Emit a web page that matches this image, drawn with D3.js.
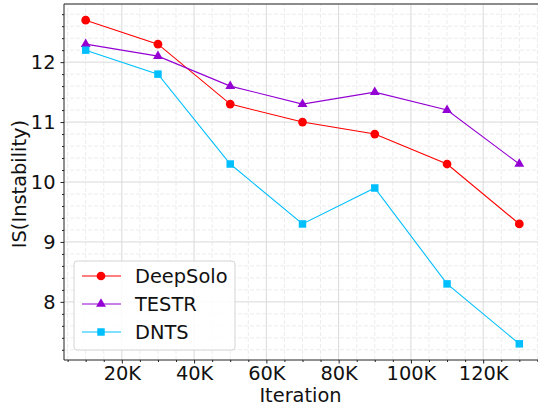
<!DOCTYPE html>
<html>
<head>
<meta charset="utf-8">
<script src="https://cdn.jsdelivr.net/npm/d3@7"></script>
<style>
  body { margin: 0; background: #fff; }
  svg { font-family: "DejaVu Sans", sans-serif; }
</style>
</head>
<body>
<div id="chart"></div>
<script>
const iterations = [10000, 30000, 50000, 70000, 90000, 110000, 130000];
const deepSolo = [12.7, 12.3, 11.3, 11.0, 10.8, 10.3, 9.3];
const testr = [12.3, 12.1, 11.6, 11.3, 11.5, 11.2, 10.3];
const dnts = [12.2, 11.8, 10.3, 9.3, 9.9, 8.3, 7.3];
const seriesNames = ['DeepSolo', 'TESTR', 'DNTS'];
const xTicks = [20000, 40000, 60000, 80000, 100000, 120000];
const yTicks = [8, 9, 10, 11, 12];

const width = 538, height = 406;
const margin = { top: 4, right: -3, bottom: 46, left: 64 };
const fontSize = '19.4px';

const series = [
	{ name: seriesNames[0], values: deepSolo, color: '#ff0000', marker: d3.symbolCircle, size: 60 },
	{ name: seriesNames[1], values: testr, color: '#9400d3', marker: d3.symbolTriangle, size: 42 },
	{ name: seriesNames[2], values: dnts, color: '#00bfff', marker: d3.symbolSquare, size: 56 }
];

const svg = d3.select('#chart')
	.append('svg')
	.attr('width', width)
	.attr('height', height);

const x = d3.scaleLinear()
	.domain([4000, 136000])
	.range([margin.left, width - margin.right]);

const y = d3.scaleLinear()
	.domain([7.03, 12.97])
	.range([height - margin.bottom, margin.top]);

const minorX = d3.range(5000, 136001, 5000).filter(v => v % 20000 !== 0);
const minorY = d3.range(7.2, 12.97, 0.2).filter(v => Math.abs(v - Math.round(v)) > 0.01);

const grid = svg.append('g');

// minor grid, dashed
grid.selectAll('.minx')
	.data(minorX)
	.enter()
	.append('line')
	.attr('x1', d => x(d)).attr('x2', d => x(d))
	.attr('y1', y.range()[0]).attr('y2', y.range()[1])
	.style('stroke', '#ececec')
	.style('stroke-dasharray', '4,2');

grid.selectAll('.miny')
	.data(minorY)
	.enter()
	.append('line')
	.attr('y1', d => y(d)).attr('y2', d => y(d))
	.attr('x1', x.range()[0]).attr('x2', x.range()[1])
	.style('stroke', '#ececec')
	.style('stroke-dasharray', '4,2');

// major grid
grid.selectAll('.majx')
	.data(xTicks)
	.enter()
	.append('line')
	.attr('x1', d => x(d)).attr('x2', d => x(d))
	.attr('y1', y.range()[0]).attr('y2', y.range()[1])
	.style('stroke', '#d9d9d9');

grid.selectAll('.majy')
	.data(yTicks)
	.enter()
	.append('line')
	.attr('y1', d => y(d)).attr('y2', d => y(d))
	.attr('x1', x.range()[0]).attr('x2', x.range()[1])
	.style('stroke', '#d9d9d9');

// top spine
svg.append('line')
	.attr('x1', x.range()[0]).attr('x2', x.range()[1])
	.attr('y1', margin.top).attr('y2', margin.top)
	.style('stroke', '#666')
	.style('stroke-width', 1.5);

// lines and markers
const line = d3.line()
	.x((d, i) => x(iterations[i]))
	.y(d => y(d));

series.forEach(s => {
	svg.append('path')
		.datum(s.values)
		.attr('d', line)
		.style('fill', 'none')
		.style('stroke', s.color)
		.style('stroke-width', 1.1);

	svg.selectAll(null)
		.data(s.values)
		.enter()
		.append('path')
		.attr('transform', (d, i) => `translate(${x(iterations[i])},${y(d)})`)
		.attr('d', d3.symbol().type(s.marker).size(s.size))
		.style('fill', s.color);
});

// axes
const xAxis = svg.append('g')
	.attr('transform', `translate(0,${height - margin.bottom})`)
	.call(d3.axisBottom(x).tickValues(xTicks).tickSize(3.5).tickPadding(3)
		.tickFormat(d => (d / 1000) + 'K'));

svg.append('g')
	.attr('transform', `translate(0,${height - margin.bottom})`)
	.call(d3.axisBottom(x).tickValues(minorX).tickSize(2).tickFormat(''))
	.call(g => g.select('.domain').remove());

const yAxis = svg.append('g')
	.attr('transform', `translate(${margin.left},0)`)
	.call(d3.axisLeft(y).tickValues(yTicks).tickSize(3.5).tickPadding(5)
		.tickFormat(d3.format('d')));

svg.append('g')
	.attr('transform', `translate(${margin.left},0)`)
	.call(d3.axisLeft(y).tickValues(minorY).tickSize(2).tickFormat(''))
	.call(g => g.select('.domain').remove());

xAxis.select('.domain').attr('d', `M${x.range()[0]},0H${x.range()[1]}`).style('stroke', '#222');
yAxis.select('.domain').attr('d', `M0,${y.range()[0]}V${y.range()[1]}`).style('stroke', '#222');

svg.selectAll('.tick line').style('stroke', '#222');
svg.selectAll('.tick text')
	.style('font-size', fontSize)
	.style('fill', '#111')
	.style('font-family', '"DejaVu Sans", sans-serif');

// axis labels
svg.append('text')
	.attr('x', 300.5)
	.attr('y', 402)
	.attr('text-anchor', 'middle')
	.style('font-size', fontSize)
	.style('fill', '#111')
	.text('Iteration');

svg.append('text')
	.attr('transform', 'translate(26,184) rotate(-90)')
	.attr('text-anchor', 'middle')
	.style('font-size', fontSize)
	.style('fill', '#111')
	.text('IS(Instability)');

// legend
const legend = svg.append('g')
	.attr('transform', 'translate(74,261)');

legend.append('rect')
	.attr('width', 161)
	.attr('height', 89)
	.attr('rx', 3)
	.style('fill', 'rgba(255,255,255,0.85)')
	.style('stroke', '#d4d4d4');

series.forEach((s, i) => {
	const row = legend.append('g')
		.attr('transform', `translate(0,${15 + i * 28})`);
	row.append('line')
		.attr('x1', 8).attr('x2', 47)
		.style('stroke', s.color)
		.style('stroke-width', 1.1);
	row.append('path')
		.attr('transform', 'translate(27,0)')
		.attr('d', d3.symbol().type(s.marker).size(s.size))
		.style('fill', s.color);
	row.append('text')
		.attr('x', 61)
		.attr('y', 7)
		.style('font-size', fontSize)
		.style('fill', '#111')
		.text(s.name);
});
</script>
</body>
</html>
